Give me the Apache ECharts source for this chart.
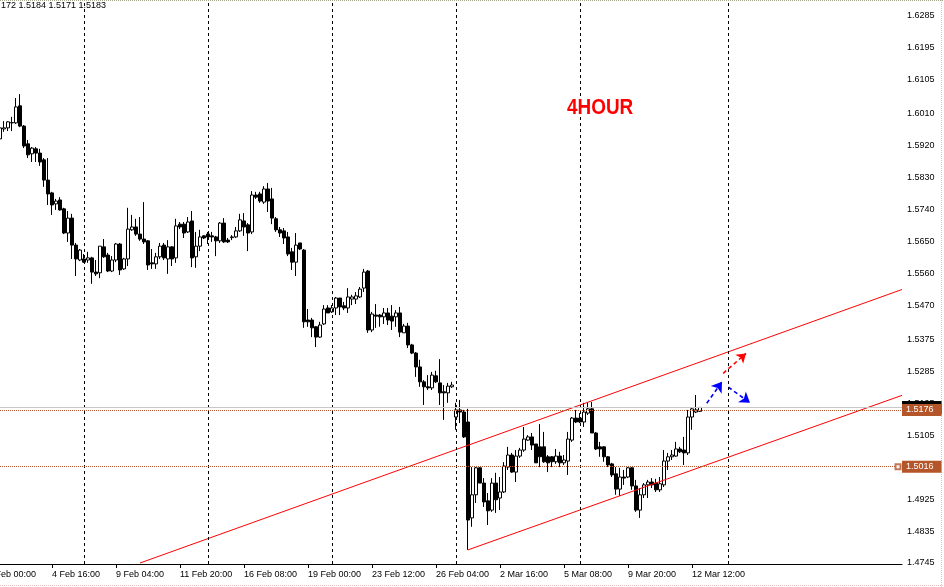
<!DOCTYPE html>
<html><head><meta charset="utf-8">
<script src="https://cdn.jsdelivr.net/npm/echarts@6/dist/echarts.min.js"></script>
<style>html,body{margin:0;padding:0;background:#fff}#c{width:944px;height:587px}</style>
</head><body><div id="c"></div><script>
// OHLC rows [open, high, low, close], 4-hour candles, first real candle at category index 3
const candles = [
[1.5939,1.5981,1.5916,1.5970],[1.5967,1.5989,1.5959,1.5970],[1.5970,1.5989,1.5961,1.5987],[1.5984,1.6001,1.5961,1.5985],
[1.5984,1.6054,1.5981,1.6029],[1.6032,1.6065,1.5972,1.5975],[1.5975,1.5978,1.5913,1.5919],[1.5925,1.5936,1.5885,1.5894],
[1.5897,1.5916,1.5874,1.5913],[1.5911,1.5916,1.5874,1.5899],[1.5899,1.5911,1.5863,1.5874],[1.5880,1.5885,1.5804,1.5823],
[1.5823,1.5885,1.5753,1.5784],[1.5787,1.5790,1.5725,1.5753],[1.5756,1.5770,1.5739,1.5764],[1.5767,1.5775,1.5737,1.5739],
[1.5742,1.5745,1.5671,1.5674],[1.5674,1.5736,1.5649,1.5716],[1.5716,1.5728,1.5601,1.5640],[1.5640,1.5646,1.5553,1.5601],
[1.5598,1.5629,1.5595,1.5626],[1.5601,1.5615,1.5590,1.5592],[1.5598,1.5621,1.5590,1.5604],[1.5604,1.5607,1.5531,1.5564],
[1.5564,1.5598,1.5553,1.5559],[1.5562,1.5637,1.5547,1.5637],[1.5635,1.5657,1.5604,1.5607],[1.5612,1.5618,1.5564,1.5567],
[1.5567,1.5609,1.5564,1.5598],[1.5598,1.5646,1.5592,1.5643],[1.5643,1.5646,1.5556,1.5570],[1.5573,1.5604,1.5570,1.5601],
[1.5601,1.5745,1.5581,1.5685],[1.5683,1.5725,1.5680,1.5691],[1.5691,1.5714,1.5666,1.5671],[1.5671,1.5719,1.5652,1.5657],
[1.5657,1.5761,1.5643,1.5649],[1.5652,1.5654,1.5570,1.5584],[1.5590,1.5629,1.5573,1.5587],[1.5587,1.5618,1.5573,1.5607],
[1.5607,1.5646,1.5601,1.5637],[1.5640,1.5646,1.5598,1.5604],[1.5601,1.5654,1.5559,1.5635],[1.5635,1.5637,1.5581,1.5601],
[1.5604,1.5714,1.5590,1.5694],[1.5699,1.5705,1.5685,1.5691],[1.5699,1.5705,1.5660,1.5674],[1.5677,1.5719,1.5674,1.5705],
[1.5708,1.5736,1.5578,1.5604],[1.5607,1.5677,1.5576,1.5637],[1.5637,1.5683,1.5623,1.5663],[1.5666,1.5668,1.5657,1.5660],
[1.5671,1.5677,1.5643,1.5663],[1.5666,1.5677,1.5649,1.5663],[1.5663,1.5666,1.5609,1.5652],[1.5652,1.5705,1.5646,1.5702],
[1.5702,1.5716,1.5646,1.5649],[1.5654,1.5660,1.5646,1.5649],[1.5661,1.5668,1.5654,1.5663],[1.5663,1.5691,1.5660,1.5680],
[1.5680,1.5728,1.5677,1.5711],[1.5708,1.5730,1.5666,1.5691],[1.5697,1.5702,1.5623,1.5674],[1.5677,1.5792,1.5671,1.5781],
[1.5781,1.5790,1.5770,1.5775],[1.5784,1.5790,1.5759,1.5764],[1.5761,1.5806,1.5756,1.5798],[1.5798,1.5815,1.5733,1.5764],
[1.5770,1.5801,1.5699,1.5716],[1.5714,1.5719,1.5677,1.5683],[1.5683,1.5691,1.5663,1.5674],[1.5680,1.5688,1.5643,1.5660],
[1.5663,1.5677,1.5609,1.5615],[1.5621,1.5632,1.5570,1.5592],[1.5592,1.5674,1.5553,1.5640],[1.5646,1.5646,1.5626,1.5629],
[1.5626,1.5629,1.5407,1.5424],[1.5429,1.5460,1.5410,1.5424],[1.5429,1.5435,1.5381,1.5407],[1.5410,1.5412,1.5353,1.5381],
[1.5381,1.5424,1.5379,1.5415],[1.5418,1.5471,1.5415,1.5460],[1.5463,1.5471,1.5449,1.5449],[1.5452,1.5471,1.5449,1.5463],
[1.5463,1.5494,1.5443,1.5491],[1.5491,1.5491,1.5443,1.5466],[1.5469,1.5480,1.5457,1.5463],[1.5463,1.5519,1.5449,1.5494],
[1.5488,1.5500,1.5471,1.5494],[1.5488,1.5508,1.5474,1.5497],[1.5494,1.5522,1.5491,1.5516],[1.5519,1.5573,1.5508,1.5564],
[1.5567,1.5570,1.5393,1.5401],[1.5401,1.5452,1.5395,1.5446],[1.5443,1.5474,1.5407,1.5440],[1.5443,1.5446,1.5410,1.5438],
[1.5438,1.5463,1.5418,1.5449],[1.5449,1.5463,1.5415,1.5429],[1.5440,1.5471,1.5401,1.5426],[1.5438,1.5457,1.5410,1.5449],
[1.5449,1.5466,1.5381,1.5395],[1.5393,1.5418,1.5393,1.5412],[1.5412,1.5421,1.5350,1.5359],[1.5359,1.5362,1.5333,1.5336],
[1.5336,1.5339,1.5269,1.5297],[1.5297,1.5317,1.5241,1.5255],[1.5255,1.5260,1.5190,1.5241],[1.5241,1.5274,1.5232,1.5238],
[1.5238,1.5283,1.5232,1.5274],[1.5272,1.5286,1.5252,1.5255],[1.5252,1.5319,1.5190,1.5224],[1.5227,1.5246,1.5148,1.5224],
[1.5224,1.5252,1.5196,1.5243],[1.5241,1.5255,1.5238,1.5246],[1.5156,1.5196,1.5120,1.5176],[1.5176,1.5204,1.5139,1.5170],
[1.5170,1.5176,1.5097,1.5100],[1.5142,1.5179,1.4782,1.4866],[1.4872,1.5015,1.4847,1.4937],[1.4937,1.5015,1.4914,1.5013],
[1.5013,1.5015,1.4970,1.4970],[1.4970,1.4984,1.4903,1.4917],[1.4920,1.4942,1.4852,1.4892],[1.4894,1.4984,1.4889,1.4970],
[1.4970,1.4999,1.4886,1.4923],[1.4928,1.4987,1.4894,1.4945],[1.4945,1.5029,1.4942,1.5018],[1.5015,1.5072,1.5007,1.5049],
[1.5049,1.5055,1.4999,1.5001],[1.5001,1.5063,1.4973,1.5046],[1.5046,1.5069,1.5041,1.5063],[1.5063,1.5128,1.5058,1.5094],
[1.5091,1.5105,1.5089,1.5100],[1.5100,1.5111,1.5063,1.5077],[1.5080,1.5080,1.5027,1.5027],[1.5072,1.5136,1.5015,1.5044],
[1.5072,1.5114,1.5027,1.5030],[1.5044,1.5049,1.5001,1.5027],[1.5044,1.5046,1.5015,1.5030],[1.5030,1.5066,1.5024,1.5046],
[1.5046,1.5058,1.5015,1.5027],[1.5027,1.5049,1.5021,1.5035],[1.5032,1.5114,1.4993,1.5094],[1.5091,1.5156,1.5086,1.5153],
[1.5153,1.5176,1.5139,1.5142],[1.5153,1.5167,1.5139,1.5142],[1.5142,1.5196,1.5128,1.5170],[1.5167,1.5196,1.5162,1.5179],
[1.5179,1.5198,1.5111,1.5111],[1.5111,1.5114,1.5063,1.5066],[1.5072,1.5086,1.5044,1.5066],[1.5072,1.5074,1.5030,1.5044],
[1.5044,1.5046,1.5015,1.5021],[1.5024,1.5027,1.4987,1.4993],[1.4996,1.5015,1.4937,1.4953],[1.4953,1.5013,1.4934,1.4987],
[1.4987,1.5007,1.4965,1.4984],[1.4987,1.5015,1.4984,1.5013],[1.5013,1.5015,1.4951,1.4962],[1.4962,1.4979,1.4889,1.4894],
[1.4894,1.4956,1.4872,1.4937],[1.4937,1.4970,1.4928,1.4965],[1.4965,1.4979,1.4928,1.4973],[1.4973,1.4984,1.4956,1.4965],
[1.4970,1.4982,1.4945,1.4951],[1.4951,1.4987,1.4945,1.4968],[1.4965,1.5063,1.4959,1.5032],[1.5032,1.5055,1.5007,1.5044],
[1.5044,1.5063,1.5035,1.5049],[1.5046,1.5086,1.5044,1.5066],[1.5066,1.5072,1.5055,1.5058],[1.5063,1.5100,1.5021,1.5055],
[1.5055,1.5176,1.5049,1.5156],[1.5156,1.5182,1.5120,1.5179],[1.5170,1.5218,1.5167,1.5176],[1.5172,1.5184,1.5171,1.5183]
];
const firstCandle = 3;          // category index of first candle
const totalSlots = 229;         // categories incl. empty future slots
const yTicks = [1.4745,1.4835,1.4925,1.5015,1.5105,1.5195,1.5285,1.5375,1.5470,1.5560,1.5650,1.5740,1.5830,1.5920,1.6010,1.6105,1.6195,1.6285];
const yMin = 1.47422, yMax = 1.6330;
const weekLines = [24,55,86,117,148,185];
const levelLines = [1.5176, 1.5016];
const bidPrice = 1.5183;
const channelUpper = [[38,1.4745],[228.5,1.5515]];
const channelLower = [[120,1.4782],[228.5,1.5217]];
const arrowsBlue = [[[179.7,1.5195],[183.5,1.5255]],[[185.1,1.5240],[190.5,1.5196]]];
const arrowsRed = [[[183.8,1.5279],[189.5,1.5335]]];
const titleText = '4HOUR';

// 4H session categories: Mon-Fri six bars, Sunday one bar
const MONTHS = ['Jan','Feb','Mar','Apr'];
const cats = [];
for (let d = new Date(Date.UTC(2010,1,2)); d <= new Date(Date.UTC(2010,2,12)); d = new Date(d.getTime()+86400000)) {
  const wd = d.getUTCDay();
  const hours = (wd>=1 && wd<=5) ? [0,4,8,12,16,20] : (wd===0 ? [20] : []);
  hours.forEach(h => cats.push(d.getUTCDate()+' '+MONTHS[d.getUTCMonth()]+' '+String(h).padStart(2,'0')+':00'));
}
const lastReal = cats.length - 1;
while (cats.length < totalSlots) cats.push('');

const kData = [];
for (let i=0;i<totalSlots;i++) {
  const r = candles[i-firstCandle];
  kData.push(r ? [r[0], r[3], r[2], r[1]] : '-');
}
const labelShow = (i) => i % 16 === 0 && i <= lastReal;
const FONT = 'Liberation Sans';
const brown = '#B4552A';
const last = candles[candles.length-1];

const chart = echarts.init(document.getElementById('c'), null, {renderer:'canvas'});
chart.setOption({
  animation:false,
  backgroundColor:'#fff',
  grid:{left:-14, top:0, width:916, height:564, containLabel:false, outerBoundsMode:'none'},
  xAxis:[
    {type:'category', data:cats, boundaryGap:true,
     axisLine:{lineStyle:{color:'#000',width:1}},
     axisTick:{show:true, alignWithLabel:true, interval:(i)=>labelShow(i), length:4, lineStyle:{color:'#000'}},
     axisLabel:{interval:(i)=>labelShow(i), align:'left', margin:6, color:'#000', fontFamily:FONT, fontSize:9, hideOverlap:false},
     splitLine:{show:false}},
    {type:'value', min:-0.5, max:totalSlots-0.5, show:false}
  ],
  yAxis:[{type:'value', position:'right', min:yMin, max:yMax, scale:true,
     axisLine:{show:true, lineStyle:{color:'#000'}},
     axisTick:{show:true, length:3, customValues:yTicks, lineStyle:{color:'#000'}},
     axisLabel:{customValues:yTicks, formatter:(v)=>v.toFixed(4), margin:5, color:'#000', fontFamily:FONT, fontSize:9, hideOverlap:false},
     splitLine:{show:false}}],
  graphic:[
    {type:'text', left:1, top:1, z:100, style:{text: last[0].toFixed(4).slice(3)+' '+last[1].toFixed(4)+' '+last[2].toFixed(4)+' '+last[3].toFixed(4), fill:'#000', font:'9px "Liberation Sans"'}},
    {type:'text', x:567, y:97, scaleX:0.86, z:100, style:{text:titleText, fill:'#ff0000', font:'bold 22px "Liberation Sans"'}},
    {type:'line', shape:{x1:0,y1:0.5,x2:944,y2:0.5}, style:{stroke:'#a8a890', lineDash:[1,1]}},
    {type:'line', shape:{x1:941.5,y1:0,x2:941.5,y2:587}, style:{stroke:'#e6c0c0', lineDash:[1,1]}},
    {type:'line', shape:{x1:0,y1:585.5,x2:944,y2:585.5}, style:{stroke:'#e6c0c0', lineDash:[1,1]}}
  ],
  series:[
    {type:'line', xAxisIndex:1, data:[], z:1, silent:true,
     markLine:{silent:true, symbol:['none','none'], animation:false, precision:4, label:{show:false},
       lineStyle:{color:'#000', type:[3,3], width:1},
       data: weekLines.map(i=>({xAxis:i}))}},
    {type:'line', xAxisIndex:1, data:[], z:5, silent:true,
     markLine:{silent:true, symbol:['none','none'], animation:false, precision:4,
       data:[
         {yAxis:bidPrice, lineStyle:{color:'#c8c8c8', type:'solid', width:1},
          label:{show:true, position:'end', distance:0, formatter:()=>bidPrice.toFixed(4), color:'#fff', backgroundColor:'#000', fontFamily:FONT, fontSize:9, padding:[2,8,2,4]}},
         ...levelLines.map(v=>({yAxis:v, lineStyle:{color:brown, type:[1,1], width:1},
          label:{show:true, position:'end', distance:0, formatter:()=>v.toFixed(4), color:'#fff', backgroundColor:brown, fontFamily:FONT, fontSize:9, padding:[2,8,1,4]}}))
       ]}},
    {type:'scatter', xAxisIndex:1, data:[[227.5, levelLines[1]]], symbol:'emptyRect', symbolSize:5, itemStyle:{color:brown, borderColor:brown, borderWidth:1}, z:6, silent:true},
    {type:'candlestick', xAxisIndex:0, data:kData, barWidth:3, z:3,
     itemStyle:{color:'#fff', color0:'#000', borderColor:'#000', borderColor0:'#000', borderWidth:1}},
    {type:'lines', coordinateSystem:'cartesian2d', xAxisIndex:1, yAxisIndex:0, z:4, silent:true,
     data:[{coords:channelUpper},{coords:channelLower}], symbol:['none','none'],
     lineStyle:{color:'#ff0000', width:1, opacity:1}},
    {type:'lines', coordinateSystem:'cartesian2d', xAxisIndex:1, yAxisIndex:0, z:4, silent:true,
     data:arrowsBlue.map(c=>({coords:c})), symbol:['none','arrow'], symbolSize:10,
     lineStyle:{color:'#0000ff', width:1.6, type:[4,3], opacity:1}},
    {type:'lines', coordinateSystem:'cartesian2d', xAxisIndex:1, yAxisIndex:0, z:4, silent:true,
     data:arrowsRed.map(c=>({coords:c})), symbol:['none','arrow'], symbolSize:9,
     lineStyle:{color:'#ff0000', width:1.6, type:[4,3], opacity:1}}
  ]
});
</script></body></html>
